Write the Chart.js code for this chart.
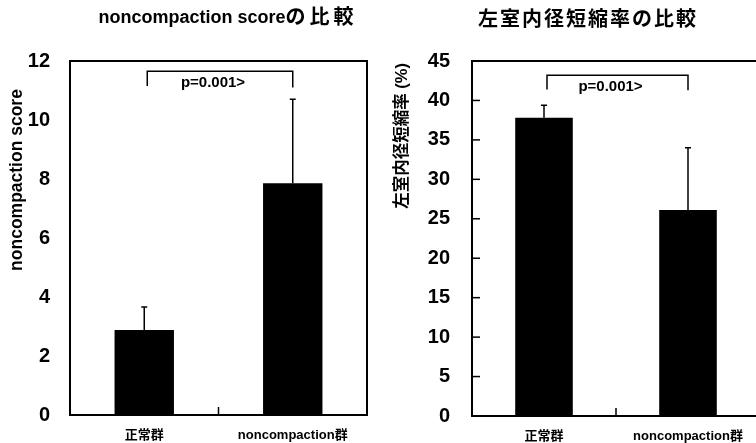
<!DOCTYPE html>
<html>
<head>
<meta charset="utf-8">
<script src="https://cdn.jsdelivr.net/npm/chart.js@4"></script>
<style>
html, body { margin: 0; padding: 0; background: #fff; overflow: hidden; width: 756px; height: 443px; }
#c1 { position: absolute; left: 0; top: 0; }
#c2 { position: absolute; left: 378px; top: 0; }
</style>
</head>
<body>
<canvas id="c1" width="378" height="443"></canvas>
<canvas id="c2" width="400" height="443"></canvas>
<script>
const groups = ['正常群', 'noncompaction群'];

// noncompaction score: mean and upper SD
const scoreMean = [2.88, 7.86];
const scoreSD = [0.78, 2.84];

// 左室内径短縮率 (%): mean and upper SD
const fsMean = [37.8, 26.1];
const fsSD = [1.6, 7.9];

const pText = 'p=0.001>';
const F = "'Liberation Sans', 'Noto Sans CJK JP', sans-serif";

// frame, error bars, bracket, titles
const decor = {
    id: 'decor',
    afterDatasetsDraw(chart, args, o) {
        const ctx = chart.ctx;
        const a = chart.chartArea;
        const x = chart.scales.x, y = chart.scales.y;
        const meta = chart.getDatasetMeta(0);
        ctx.save();
        ctx.strokeStyle = '#000';
        ctx.lineWidth = 1.5;
        meta.data.forEach((bar, i) => {
            const top = y.getPixelForValue(o.mean[i] + o.sd[i]);
            ctx.beginPath();
            ctx.moveTo(bar.x, bar.y);
            ctx.lineTo(bar.x, top);
            ctx.moveTo(bar.x - 3, top);
            ctx.lineTo(bar.x + 3, top);
            ctx.stroke();
        });
        if (o.inTicks) {
            y.ticks.forEach(t => {
                const py = y.getPixelForValue(t.value);
                ctx.beginPath();
                ctx.moveTo(a.left, py);
                ctx.lineTo(a.left + 8, py);
                ctx.stroke();
            });
        }
        const mid = (x.getPixelForValue(0) + x.getPixelForValue(1)) / 2;
        ctx.beginPath();
        ctx.moveTo(mid, a.bottom);
        ctx.lineTo(mid, a.bottom - 8);
        ctx.stroke();

        // bracket
        const bx0 = x.getPixelForValue(0) + 3, bx1 = x.getPixelForValue(1);
        const by = y.getPixelForValue(o.bracket[0]);
        ctx.beginPath();
        ctx.moveTo(bx0, y.getPixelForValue(o.bracket[1]));
        ctx.lineTo(bx0, by);
        ctx.lineTo(bx1, by);
        ctx.lineTo(bx1, y.getPixelForValue(o.bracket[2]));
        ctx.stroke();
        ctx.fillStyle = '#000';
        ctx.font = 'bold 15px ' + F;
        ctx.textAlign = 'center';
        ctx.textBaseline = 'middle';
        ctx.fillText(pText, (bx0 + bx1) / 2 - 7, by + 12);

        ctx.lineWidth = 2;
        ctx.strokeRect(a.left, a.top, a.right - a.left, a.bottom - a.top);
        ctx.restore();
    },
    afterDraw(chart, args, o) {
        const ctx = chart.ctx;
        ctx.save();
        ctx.fillStyle = '#000';
        ctx.textBaseline = 'middle';
        ctx.textAlign = 'left';
        // title: latin part and CJK part drawn with their own size
        ctx.font = 'bold ' + o.titleSize[0] + 'px ' + F;
        const w1 = ctx.measureText(o.title[0]).width;
        ctx.font = 'bold ' + o.titleSize[1] + 'px ' + F;
        ctx.letterSpacing = o.titleSpacing + 'px';
        const w2 = ctx.measureText(o.title[1]).width;
        ctx.letterSpacing = '0px';
        const tx = o.titlePos[0] - (w1 + w2) / 2;
        ctx.font = 'bold ' + o.titleSize[0] + 'px ' + F;
        ctx.fillText(o.title[0], tx, o.titlePos[1]);
        ctx.font = 'bold ' + o.titleSize[1] + 'px ' + F;
        ctx.letterSpacing = o.titleSpacing + 'px';
        ctx.fillText(o.title[1], tx + w1, o.titlePos[1]);
        ctx.letterSpacing = '0px';

        // y title
        ctx.translate(o.yTitlePos[0], o.yTitlePos[1]);
        ctx.rotate(-Math.PI / 2);
        ctx.textAlign = 'center';
        ctx.font = 'bold ' + o.yTitleSize + 'px ' + F;
        ctx.fillText(o.yTitle, 0, 0);
        ctx.restore();
    }
};

function makeChart(id, mean, sd, yMax, step, padRight, xHeight, yWidth, labelPad, deco) {
    return new Chart(document.getElementById(id), {
        type: 'bar',
        data: {
            labels: groups,
            datasets: [{ data: mean, backgroundColor: '#000', barPercentage: 0.4, categoryPercentage: 1 }]
        },
        options: {
            responsive: false,
            animation: false,
            layout: { padding: { top: 61, right: padRight, left: 0, bottom: 0 } },
            plugins: {
                legend: { display: false },
                tooltip: { enabled: false },
                decor: Object.assign({ mean: mean, sd: sd }, deco)
            },
            scales: {
                x: {
                    grid: { display: false, drawTicks: false },
                    border: { display: false },
                    ticks: { padding: 13, color: '#000', font: { size: 13, weight: 'bold', family: F } },
                    afterFit(s) { s.height = xHeight; }
                },
                y: {
                    min: 0, max: yMax,
                    grid: { display: false, drawTicks: false },
                    border: { display: false },
                    ticks: { stepSize: step, padding: labelPad, color: '#000', font: { size: 20, weight: 'bold', family: F } },
                    afterFit(s) {
                        s.width = yWidth;
                        s.paddingTop = 0;
                        s.paddingBottom = 0;
                    }
                }
            }
        },
        plugins: [decor]
    });
}

makeChart('c1', scoreMean, scoreSD, 12, 2, 11, 28, 70, 20, {
    inTicks: false,
    bracket: [11.65, 11.15, 11.1],
    title: ['noncompaction score', 'の比較'],
    titleSize: [18, 20],
    titleSpacing: 4,
    titlePos: [228, 18],
    yTitle: 'noncompaction score',
    yTitleSize: 17.5,
    yTitlePos: [17, 180]
});

makeChart('c2', fsMean, fsSD, 45, 5, 18, 27, 94, 22, {
    inTicks: true,
    bracket: [43.2, 41.4, 41.3],
    title: ['', '左室内径短縮率の比較'],
    titleSize: [18, 20],
    titleSpacing: 2,
    titlePos: [210, 20],
    yTitle: '左室内径短縮率 (%)',
    yTitleSize: 16.5,
    yTitlePos: [24, 136]
});
</script>
</body>
</html>
